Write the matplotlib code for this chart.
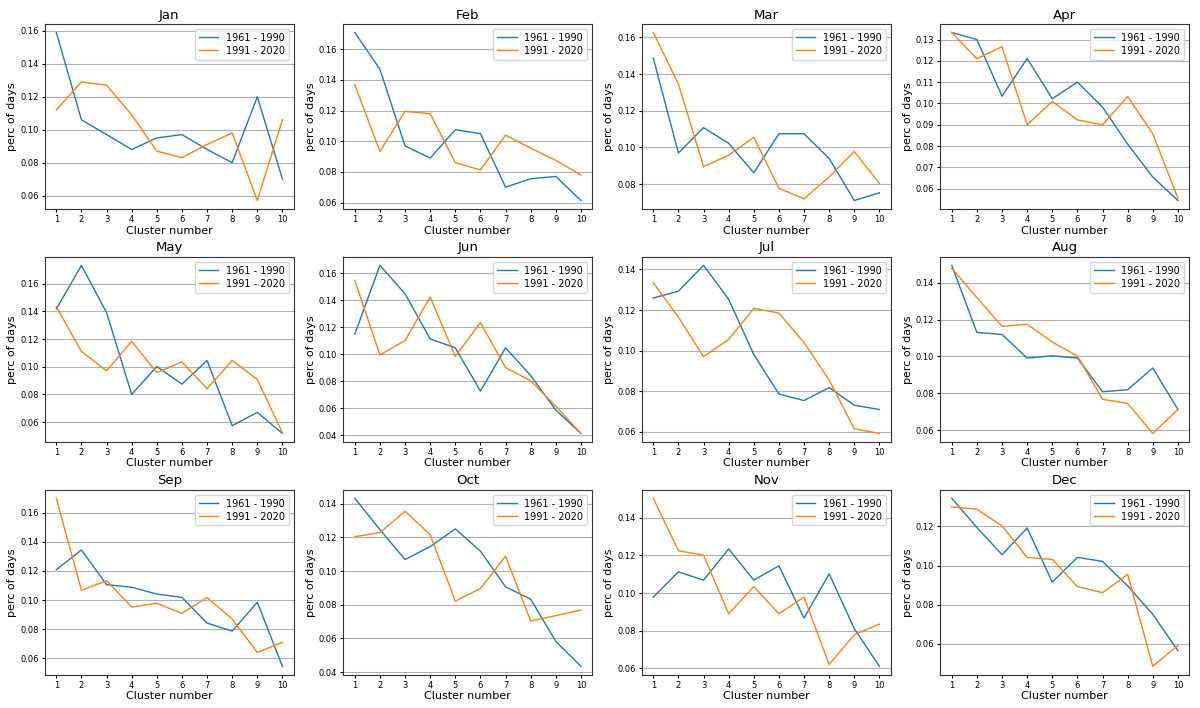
import numpy as np
import matplotlib
matplotlib.use('Agg')
import matplotlib.pyplot as plt

# cluster frequencies, per month
months = ['Jan', 'Feb', 'Mar', 'Apr', 'May', 'Jun',
          'Jul', 'Aug', 'Sep', 'Oct', 'Nov', 'Dec']
clusters = list(range(1, 11))
labels = ['1961 - 1990', '1991 - 2020']

old = {
    'Jan': [0.159, 0.106, 0.097, 0.088, 0.095, 0.097, 0.088, 0.080, 0.120, 0.070],
    'Feb': [0.171, 0.147, 0.097, 0.089, 0.1075, 0.105, 0.070, 0.0755, 0.077, 0.0613],
    'Mar': [0.1488, 0.097, 0.1108, 0.1023, 0.0862, 0.1075, 0.1075, 0.094, 0.0711, 0.0753],
    'Apr': [0.1333, 0.130, 0.1034, 0.1211, 0.1022, 0.110, 0.0983, 0.081, 0.0655, 0.0545],
    'May': [0.1417, 0.1732, 0.1391, 0.080, 0.1001, 0.0874, 0.1045, 0.0574, 0.067, 0.0518],
    'Jun': [0.1147, 0.1657, 0.1447, 0.1112, 0.1046, 0.0725, 0.1046, 0.0841, 0.0585, 0.0412],
    'Jul': [0.1259, 0.1293, 0.142, 0.1253, 0.0981, 0.0786, 0.0754, 0.0818, 0.0731, 0.071],
    'Aug': [0.1494, 0.113, 0.1119, 0.0991, 0.1003, 0.0991, 0.0808, 0.0819, 0.0937, 0.0712],
    'Sep': [0.1209, 0.1345, 0.1106, 0.1088, 0.1041, 0.1018, 0.0841, 0.0786, 0.0984, 0.0543],
    'Oct': [0.1432, 0.1246, 0.1068, 0.1145, 0.125, 0.1118, 0.0906, 0.0833, 0.0582, 0.0434],
    'Nov': [0.0979, 0.1113, 0.1069, 0.1235, 0.1069, 0.1145, 0.0867, 0.1103, 0.0811, 0.0611],
    'Dec': [0.1344, 0.1195, 0.1056, 0.1192, 0.0916, 0.1042, 0.1022, 0.0897, 0.0751, 0.0566],
}

new = {
    'Jan': [0.112, 0.129, 0.127, 0.109, 0.087, 0.083, 0.091, 0.098, 0.057, 0.106],
    'Feb': [0.137, 0.0933, 0.1195, 0.118, 0.086, 0.0813, 0.104, 0.0955, 0.0875, 0.078],
    'Mar': [0.1627, 0.1346, 0.0896, 0.0958, 0.1056, 0.0778, 0.072, 0.084, 0.0978, 0.0805],
    'Apr': [0.1333, 0.121, 0.1266, 0.090, 0.101, 0.0923, 0.090, 0.1033, 0.0858, 0.0556],
    'May': [0.1434, 0.111, 0.097, 0.1184, 0.0958, 0.1035, 0.0841, 0.1045, 0.0908, 0.0523],
    'Jun': [0.1546, 0.0994, 0.110, 0.1423, 0.0982, 0.1233, 0.090, 0.0802, 0.0614, 0.0412],
    'Jul': [0.1334, 0.1165, 0.097, 0.1055, 0.1208, 0.1185, 0.1039, 0.0855, 0.0615, 0.0592],
    'Aug': [0.1478, 0.1319, 0.1163, 0.1174, 0.1078, 0.1002, 0.0767, 0.0745, 0.0582, 0.0712],
    'Sep': [0.1701, 0.1067, 0.1133, 0.0952, 0.0977, 0.0908, 0.1018, 0.0869, 0.0639, 0.0708],
    'Oct': [0.1204, 0.1228, 0.1355, 0.1216, 0.0821, 0.0896, 0.1088, 0.0703, 0.0735, 0.0768],
    'Nov': [0.1504, 0.1225, 0.1202, 0.089, 0.1035, 0.089, 0.0979, 0.0621, 0.0779, 0.0835],
    'Dec': [0.130, 0.1288, 0.1203, 0.1042, 0.1032, 0.0893, 0.0862, 0.0955, 0.0486, 0.0592],
}

fig, axes = plt.subplots(3, 4, figsize=(12, 7.08), dpi=100)
fig.subplots_adjust(left=0.0375, right=0.991, top=0.966, bottom=0.047,
                    wspace=0.2, hspace=0.26)

for ax, m in zip(axes.flat, months):
    ax.plot(clusters, old[m], color='#1f77b4', lw=1.0, label=labels[0])
    ax.plot(clusters, new[m], color='#ff7f0e', lw=1.0, label=labels[1])
    ax.set_title(m, fontsize=9.5, pad=4)
    ax.set_xticks(clusters)
    ax.tick_params(labelsize=6, length=2.5, pad=2)
    ax.set_xlabel('Cluster number', fontsize=8, labelpad=1)
    ax.set_ylabel('perc of days', fontsize=8, labelpad=2)
    ax.yaxis.grid(True, color='#b0b0b0', lw=0.8)
    ax.set_axisbelow(True)
    for sp in ax.spines.values():
        sp.set_color('#333333')
    ax.legend(loc='upper right', fontsize=7, handlelength=2.0,
              borderpad=0.4, labelspacing=0.3)

fig.savefig('out.png', dpi=100)
